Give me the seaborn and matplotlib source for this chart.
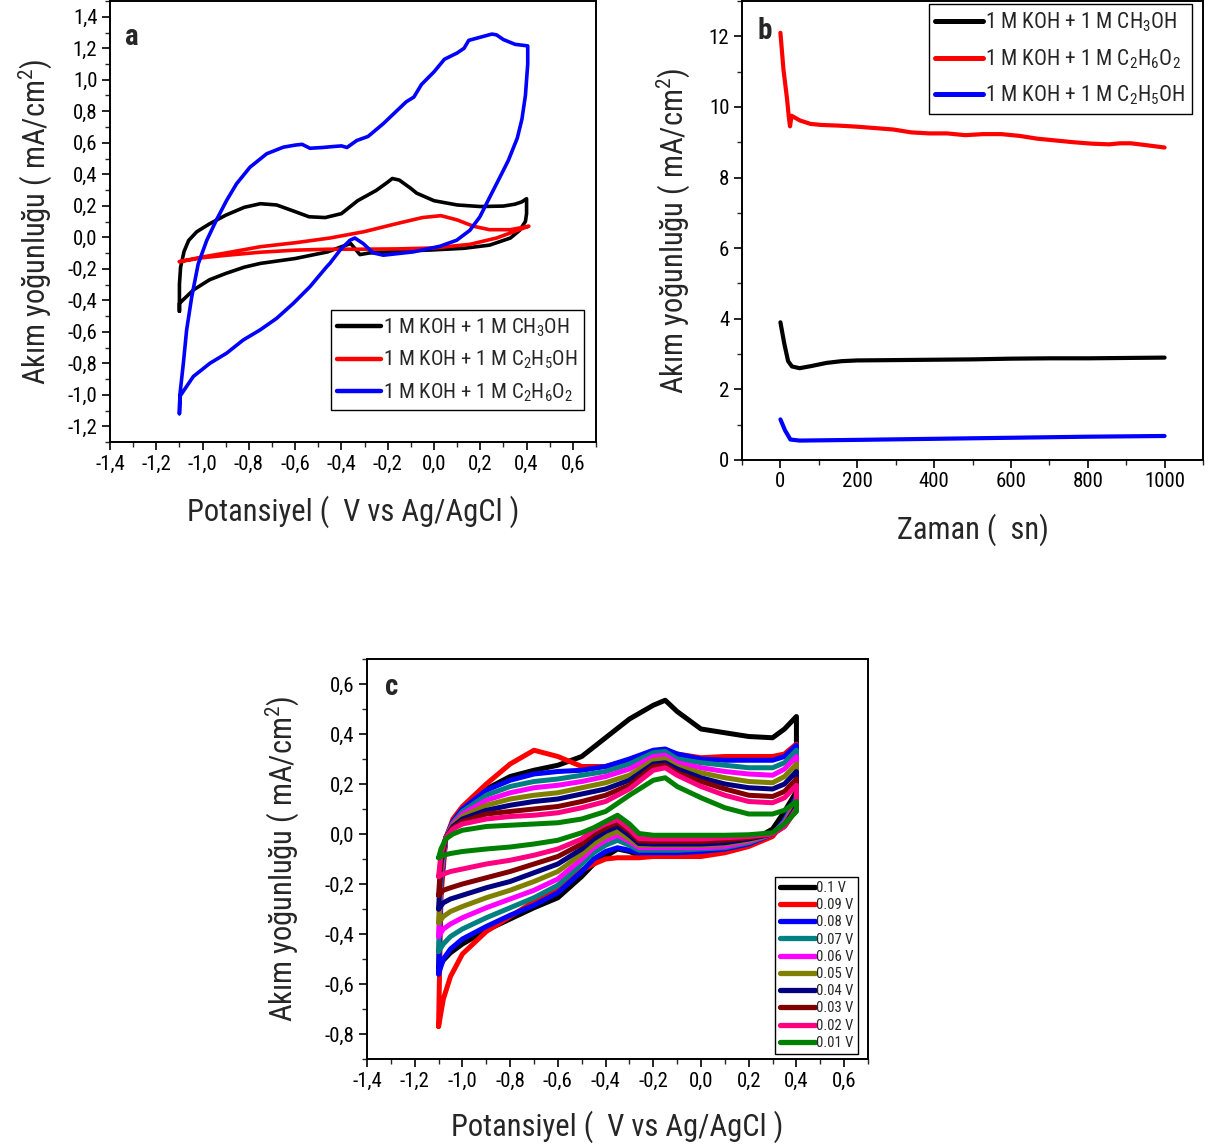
import numpy as np
import pandas as pd
import matplotlib
matplotlib.use("Agg")
import matplotlib.pyplot as plt
from matplotlib import font_manager
from matplotlib.ticker import MultipleLocator, FuncFormatter
from matplotlib.lines import Line2D
import seaborn as sns

sns.set_style("ticks")

# ---- pick a condensed sans font if one is installed ----
_entries = font_manager.fontManager.ttflist
_names = {f.name for f in _entries}
FONT, STRETCH, NARROW = 'Liberation Sans', 'normal', False
for nm in ['Liberation Sans Narrow', 'Roboto Condensed', 'Open Sans Condensed', 'Noto Sans Condensed',
           'DejaVu Sans Condensed']:
    if nm in _names:
        FONT, NARROW = nm, True
        break
if not NARROW:
    for fam in ['Liberation Sans', 'Roboto', 'Noto Sans', 'Open Sans', 'DejaVu Sans', 'Inter', 'Lato']:
        ok = [f for f in _entries if f.name == fam and str(f.stretch) in
              ('condensed', 'semi-condensed', 'extra-condensed', '300', '400', '200')
              and f.style == 'normal']
        if ok:
            FONT, STRETCH, NARROW = fam, 'condensed', True
            break

plt.rcParams['font.family'] = [FONT, 'DejaVu Sans']
plt.rcParams['font.stretch'] = STRETCH
plt.rcParams['mathtext.fontset'] = 'custom'
plt.rcParams['mathtext.rm'] = FONT
plt.rcParams['mathtext.it'] = FONT
plt.rcParams['mathtext.bf'] = FONT + ':bold'
plt.rcParams['mathtext.default'] = 'regular'

S = 1.0 if NARROW else 0.86   # shrink text when no condensed face exists

# ---------------- Panel a : CV in three fuels ----------------
a_labels = ['1 M KOH + 1 M CH$_3$OH', '1 M KOH + 1 M C$_2$H$_5$OH', '1 M KOH + 1 M C$_2$H$_6$O$_2$']
a_colors = ['#000000', '#ff0000', '#0000ff']

a_meoh_E = [-1.1, -1.1, -1.095, -1.08, -1.06, -1.025, -0.97, -0.9, -0.82, -0.75, -0.68, -0.61, -0.54, -0.47, -0.4,
            -0.33, -0.25, -0.2, -0.18, -0.15, -0.1, -0.075, 0.0, 0.1, 0.2, 0.3, 0.35, 0.38, 0.4,
            0.4, 0.395, 0.37, 0.33, 0.24, 0.13, 0.0, -0.16, -0.28, -0.32, -0.34, -0.36, -0.39, -0.46,
            -0.6, -0.75, -0.82, -0.9, -0.97, -1.04, -1.1, -1.1]
a_meoh_j = [-0.47, -0.3, -0.19, -0.09, -0.02, 0.035, 0.085, 0.14, 0.19, 0.213, 0.205, 0.168, 0.13, 0.125, 0.15,
            0.232, 0.297, 0.35, 0.373, 0.363, 0.31, 0.28, 0.232, 0.205, 0.195, 0.198, 0.21, 0.225, 0.245,
            0.15, 0.1, 0.044, -0.005, -0.05, -0.07, -0.08, -0.09, -0.1, -0.11, -0.075, -0.04, -0.055, -0.093,
            -0.135, -0.166, -0.19, -0.23, -0.27, -0.335, -0.42, -0.47]

a_etoh_E = [-1.1, -1.0, -0.9, -0.75, -0.6, -0.45, -0.3, -0.16, -0.05, 0.03, 0.1, 0.17, 0.24, 0.33, 0.41,
            0.4, 0.27, 0.155, 0.0, -0.16, -0.32, -0.46, -0.6, -0.75, -0.9, -1.0, -1.1]
a_etoh_j = [-0.155, -0.125, -0.1, -0.06, -0.035, -0.005, 0.036, 0.087, 0.125, 0.137, 0.11, 0.07, 0.048, 0.048, 0.07,
            0.065, -0.005, -0.045, -0.068, -0.074, -0.076, -0.076, -0.082, -0.095, -0.115, -0.13, -0.155]

a_eg_E = [-1.1, -1.098, -1.083, -1.069, -1.047, -1.019, -0.982, -0.94, -0.896, -0.853, -0.795, -0.723, -0.651,
          -0.6, -0.57, -0.536, -0.48, -0.435, -0.4, -0.376, -0.334, -0.285, -0.22, -0.17, -0.12, -0.087, -0.054,
          0.0, 0.045, 0.1, 0.13, 0.15, 0.2, 0.25, 0.27, 0.3, 0.35, 0.405,
          0.405, 0.395, 0.38, 0.36, 0.321, 0.285, 0.241, 0.198, 0.155, 0.098, 0.026, -0.09, -0.219, -0.263,
          -0.306, -0.342, -0.363, -0.392, -0.406, -0.45, -0.464, -0.536, -0.608, -0.68, -0.752, -0.824,
          -0.896, -0.968, -1.04, -1.098, -1.1]
a_eg_j = [-1.12, -1.0, -0.8, -0.59, -0.38, -0.17, -0.02, 0.11, 0.234, 0.34, 0.445, 0.53, 0.572,
          0.585, 0.59, 0.565, 0.57, 0.576, 0.58, 0.57, 0.614, 0.64, 0.72, 0.79, 0.86, 0.89, 0.97,
          1.05, 1.13, 1.17, 1.2, 1.25, 1.27, 1.29, 1.285, 1.255, 1.225, 1.215,
          1.1, 0.9, 0.75, 0.63, 0.487, 0.382, 0.255, 0.129, 0.044, -0.019, -0.057, -0.093, -0.114, -0.099,
          -0.04, -0.005, -0.019, -0.061, -0.082, -0.166, -0.188, -0.314, -0.42, -0.515, -0.589, -0.652,
          -0.736, -0.8, -0.884, -1.01, -1.12]

# ---------------- Panel b : chronoamperometry ----------------
b_labels = ['1 M KOH + 1 M CH$_3$OH', '1 M KOH + 1 M C$_2$H$_6$O$_2$', '1 M KOH + 1 M C$_2$H$_5$OH']
b_colors = ['#000000', '#ff0000', '#0000ff']
b_meoh_t = [0, 10, 20, 30, 50, 80, 120, 160, 200, 300, 400, 500, 600, 700, 800, 900, 1000]
b_meoh_j = [3.9, 3.3, 2.8, 2.65, 2.6, 2.66, 2.75, 2.8, 2.82, 2.83, 2.84, 2.85, 2.87, 2.88, 2.88, 2.89, 2.9]
b_eg_t = [0, 8, 17, 22, 25, 29, 50, 78, 106, 153, 200, 294, 340, 387, 434, 481, 528, 575, 622, 669, 716,
          763, 810, 856, 884, 912, 950, 1000]
b_eg_j = [12.1, 11.05, 10.25, 9.7, 9.45, 9.75, 9.62, 9.52, 9.49, 9.47, 9.44, 9.36, 9.28, 9.25, 9.25, 9.2,
          9.23, 9.23, 9.18, 9.1, 9.05, 9.0, 8.96, 8.94, 8.97, 8.97, 8.92, 8.85]
b_etoh_t = [0, 12, 26, 50, 200, 400, 600, 800, 1000]
b_etoh_j = [1.15, 0.84, 0.58, 0.55, 0.57, 0.6, 0.63, 0.66, 0.68]

# ---------------- Panel c : CV at different scan rates ----------------
c_rates = ['0.1 V', '0.09 V', '0.08 V', '0.07 V', '0.06 V', '0.05 V', '0.04 V', '0.03 V', '0.02 V', '0.01 V']
c_colors = ['#000000', '#ff0000', '#0000ff', '#008080', '#ff00ff', '#808000', '#000080', '#800000',
            '#ff0080', '#008000']
c_E_fwd = [-1.1, -1.09, -1.07, -1.04, -1.0, -0.9, -0.8, -0.7, -0.6, -0.5, -0.4, -0.3, -0.2, -0.15,
           -0.1, 0.0, 0.1, 0.2, 0.3, 0.35, 0.4]
c_E_rev = [0.4, 0.35, 0.3, 0.2, 0.1, 0.0, -0.1, -0.2, -0.26, -0.3, -0.35, -0.4, -0.45, -0.5, -0.6, -0.7,
           -0.8, -0.9, -1.0, -1.05, -1.08, -1.1]
c_fwd = {
    '0.1 V':  [-0.54, -0.2, -0.02, 0.05, 0.10, 0.18, 0.23, 0.255, 0.275, 0.31, 0.385, 0.46, 0.515, 0.535, 0.49, 0.42, 0.405, 0.39, 0.385, 0.42, 0.47],
    '0.09 V': [-0.77, -0.25, -0.02, 0.06, 0.11, 0.20, 0.28, 0.335, 0.31, 0.27, 0.27, 0.295, 0.325, 0.335, 0.32, 0.305, 0.31, 0.31, 0.31, 0.32, 0.36],
    '0.08 V': [-0.56, -0.2, -0.015, 0.05, 0.10, 0.175, 0.215, 0.24, 0.25, 0.255, 0.27, 0.30, 0.335, 0.34, 0.32, 0.30, 0.295, 0.295, 0.295, 0.31, 0.355],
    '0.07 V': [-0.47, -0.18, -0.015, 0.045, 0.09, 0.155, 0.19, 0.21, 0.22, 0.235, 0.25, 0.28, 0.325, 0.33, 0.30, 0.285, 0.275, 0.265, 0.265, 0.285, 0.335],
    '0.06 V': [-0.41, -0.16, -0.015, 0.04, 0.08, 0.135, 0.165, 0.185, 0.195, 0.21, 0.23, 0.26, 0.31, 0.315, 0.285, 0.265, 0.25, 0.24, 0.235, 0.26, 0.31],
    '0.05 V': [-0.355, -0.14, -0.015, 0.035, 0.07, 0.115, 0.14, 0.155, 0.165, 0.185, 0.205, 0.235, 0.295, 0.30, 0.27, 0.245, 0.225, 0.21, 0.205, 0.23, 0.28],
    '0.04 V': [-0.30, -0.12, -0.015, 0.03, 0.06, 0.095, 0.115, 0.13, 0.14, 0.16, 0.18, 0.215, 0.28, 0.285, 0.26, 0.225, 0.20, 0.185, 0.18, 0.20, 0.25],
    '0.03 V': [-0.245, -0.10, -0.015, 0.025, 0.05, 0.08, 0.09, 0.10, 0.11, 0.13, 0.155, 0.195, 0.27, 0.275, 0.245, 0.21, 0.18, 0.155, 0.15, 0.17, 0.22],
    '0.02 V': [-0.17, -0.08, -0.015, 0.02, 0.04, 0.06, 0.07, 0.075, 0.085, 0.105, 0.13, 0.18, 0.255, 0.265, 0.235, 0.19, 0.155, 0.13, 0.125, 0.145, 0.195],
    '0.01 V': [-0.095, -0.06, -0.02, 0.0, 0.015, 0.03, 0.035, 0.04, 0.045, 0.06, 0.09, 0.155, 0.215, 0.225, 0.19, 0.145, 0.105, 0.08, 0.08, 0.095, 0.13],
}
c_rev = {
    '0.1 V':  [0.17, 0.09, 0.02, -0.035, -0.06, -0.07, -0.075, -0.08, -0.085, -0.07, -0.06, -0.09, -0.12, -0.17, -0.255, -0.295, -0.34, -0.385, -0.44, -0.475, -0.505, -0.54],
    '0.09 V': [0.15, 0.05, -0.01, -0.05, -0.075, -0.09, -0.09, -0.09, -0.095, -0.095, -0.095, -0.10, -0.12, -0.145, -0.215, -0.27, -0.33, -0.39, -0.48, -0.57, -0.66, -0.77],
    '0.08 V': [0.15, 0.055, 0.0, -0.04, -0.06, -0.07, -0.075, -0.075, -0.075, -0.065, -0.055, -0.07, -0.10, -0.15, -0.235, -0.285, -0.325, -0.37, -0.42, -0.46, -0.50, -0.56],
    '0.07 V': [0.14, 0.05, 0.0, -0.035, -0.055, -0.06, -0.065, -0.065, -0.065, -0.045, -0.025, -0.045, -0.075, -0.12, -0.205, -0.255, -0.295, -0.335, -0.38, -0.41, -0.44, -0.47],
    '0.06 V': [0.13, 0.045, 0.0, -0.03, -0.05, -0.055, -0.055, -0.055, -0.055, -0.03, -0.005, -0.025, -0.055, -0.10, -0.18, -0.225, -0.26, -0.295, -0.335, -0.36, -0.38, -0.41],
    '0.05 V': [0.12, 0.04, 0.0, -0.025, -0.04, -0.045, -0.045, -0.045, -0.045, -0.02, 0.01, -0.01, -0.04, -0.08, -0.15, -0.19, -0.225, -0.255, -0.29, -0.31, -0.33, -0.355],
    '0.04 V': [0.11, 0.035, 0.0, -0.02, -0.035, -0.04, -0.04, -0.04, -0.038, -0.005, 0.03, 0.01, -0.02, -0.06, -0.12, -0.155, -0.19, -0.215, -0.245, -0.26, -0.275, -0.30],
    '0.03 V': [0.10, 0.03, 0.0, -0.015, -0.025, -0.03, -0.03, -0.03, -0.028, 0.01, 0.045, 0.025, 0.0, -0.04, -0.09, -0.12, -0.15, -0.175, -0.20, -0.215, -0.225, -0.245],
    '0.02 V': [0.10, 0.03, 0.0, -0.01, -0.015, -0.02, -0.02, -0.02, -0.018, 0.02, 0.058, 0.04, 0.015, -0.02, -0.06, -0.085, -0.105, -0.12, -0.14, -0.15, -0.16, -0.17],
    '0.01 V': [0.09, 0.04, 0.005, -0.003, -0.005, -0.005, -0.005, -0.005, 0.002, 0.04, 0.075, 0.05, 0.025, 0.005, -0.025, -0.04, -0.052, -0.06, -0.07, -0.078, -0.085, -0.095],
}

# ---------------- helpers ----------------
def comma_fmt(v, p):
    if abs(v) < 1e-9:
        v = 0.0
    return f"{v:.1f}".replace('.', ',')


def style(ax, xmaj, xmin, ymaj, ymin, xcomma=True, ycomma=True):
    ax.xaxis.set_major_locator(MultipleLocator(xmaj))
    ax.xaxis.set_minor_locator(MultipleLocator(xmin))
    ax.yaxis.set_major_locator(MultipleLocator(ymaj))
    ax.yaxis.set_minor_locator(MultipleLocator(ymin))
    if xcomma:
        ax.xaxis.set_major_formatter(FuncFormatter(comma_fmt))
    if ycomma:
        ax.yaxis.set_major_formatter(FuncFormatter(comma_fmt))
    ax.tick_params(which='major', direction='out', length=6, width=1.2, labelsize=15 * S,
                   top=False, right=False, colors='black', pad=3)
    ax.tick_params(which='minor', direction='out', length=3.5, width=1.0, top=False, right=False)
    for s in ax.spines.values():
        s.set_visible(True)
        s.set_linewidth(1.4)
        s.set_color('black')


def leg(ax, colors, labels, lw, fs, **kw):
    handles = [Line2D([0], [0], color=c, lw=lw) for c in colors]
    L = ax.legend(handles, labels, fontsize=fs, frameon=True, fancybox=False, framealpha=1,
                  edgecolor='black', borderpad=0.3, handletextpad=0.1, borderaxespad=0, **kw)
    L.get_frame().set_linewidth(1.0)
    return L


W, H = 1205, 1146
fig = plt.figure(figsize=(W / 100, H / 100), dpi=100)

def axes_px(l, t, r, b):
    return fig.add_axes([l / W, 1 - b / H, (r - l) / W, (b - t) / H])

ylab = 'Akım yoğunluğu ( mA/cm$^2$)'
xlab = 'Potansiyel (  V vs Ag/AgCl )'
LBL = 22 * S

# ---- a ----
axa = axes_px(110, 1, 596, 442)
for E, j, c in zip([a_meoh_E, a_etoh_E, a_eg_E], [a_meoh_j, a_etoh_j, a_eg_j], a_colors):
    sns.lineplot(x=E, y=j, sort=False, estimator=None, color=c, lw=2.6, ax=axa)
axa.set_xlim(-1.4, 0.7)
axa.set_ylim(-1.3, 1.5)
style(axa, 0.2, 0.1, 0.2, 0.1)
axa.set_xlabel(xlab, fontsize=LBL, labelpad=16)
axa.set_ylabel(ylab, fontsize=LBL, labelpad=10)
axa.text(0.03, 0.95, 'a', transform=axa.transAxes, fontsize=21, fontweight='bold', va='top')
leg(axa, a_colors, a_labels, 3.2, 15 * S, loc='lower right', bbox_to_anchor=(0.975, 0.072),
    handlelength=2.1, labelspacing=0.5)

# ---- b ----
axb = axes_px(742, 1, 1203, 460)
for t, j, c in zip([b_meoh_t, b_eg_t, b_etoh_t], [b_meoh_j, b_eg_j, b_etoh_j], b_colors):
    sns.lineplot(x=t, y=j, sort=False, estimator=None, color=c, lw=3.0, ax=axb)
axb.set_xlim(-100, 1100)
axb.set_ylim(0, 13)
style(axb, 200, 100, 2, 1, xcomma=False, ycomma=False)
axb.set_xlabel('Zaman (  sn)', fontsize=LBL, labelpad=16)
axb.set_ylabel(ylab, fontsize=LBL, labelpad=12)
axb.text(0.033, 0.965, 'b', transform=axb.transAxes, fontsize=21, fontweight='bold', va='top')
leg(axb, b_colors, b_labels, 3.6, 15.5 * S, loc='upper right', bbox_to_anchor=(0.976, 0.993),
    handlelength=2.2, labelspacing=0.6)

# ---- c ----
axc = axes_px(367, 659, 868, 1059)
rows = []
for rate in c_rates:
    E = c_E_fwd + c_E_rev + [c_E_fwd[0]]
    J = c_fwd[rate] + c_rev[rate] + [c_fwd[rate][0]]
    for i, (e, jv) in enumerate(zip(E, J)):
        rows.append({'E': e, 'j': jv, 'rate': rate, 'step': i})
dfc = pd.DataFrame(rows)
sns.lineplot(data=dfc, x='E', y='j', hue='rate', hue_order=c_rates, palette=c_colors,
             units='rate', estimator=None, sort=False, lw=3.6, legend=False, ax=axc)
axc.set_xlim(-1.4, 0.7)
axc.set_ylim(-0.9, 0.7)
style(axc, 0.2, 0.1, 0.2, 0.1)
axc.set_xlabel(xlab, fontsize=LBL, labelpad=14)
axc.set_ylabel(ylab, fontsize=LBL, labelpad=17)
axc.text(0.035, 0.965, 'c', transform=axc.transAxes, fontsize=21, fontweight='bold', va='top')
leg(axc, c_colors, c_rates, 3.8, 10.5 * S, loc='lower right', bbox_to_anchor=(0.98, 0.012),
    handlelength=2.4, labelspacing=0.22)

fig.savefig('out.png', dpi=100)
